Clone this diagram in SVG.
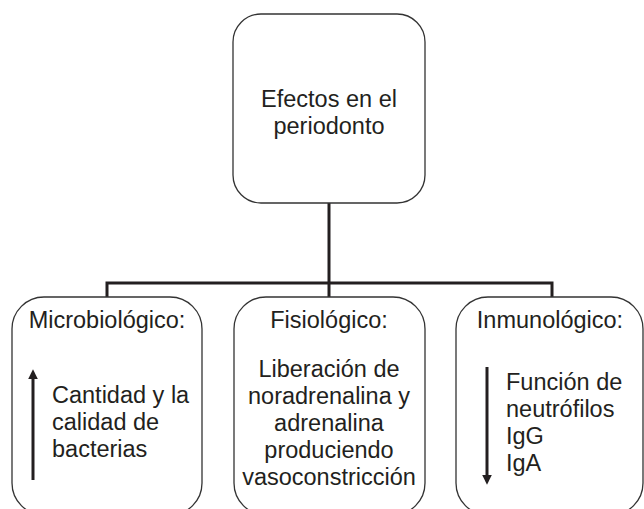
<svg xmlns="http://www.w3.org/2000/svg" width="644" height="509" viewBox="0 0 644 509">
<style>
.box{fill:#fff;stroke:#333;stroke-width:1.3}
.t{font-family:"Liberation Sans",Arial,sans-serif;font-size:23.5px;fill:#231f20}
.c{text-anchor:middle}
.con{fill:none;stroke:#231f20;stroke-width:3}
.arr{stroke:#231f20;stroke-width:3}
</style>
<defs>
<marker id="ah" viewBox="0 0 10 10" refX="2" refY="5" markerWidth="3.2" markerHeight="3.4" orient="auto" markerUnits="strokeWidth">
<path d="M0,0 L10,5 L0,10 z" fill="#231f20"/>
</marker>
</defs>
<g id="connectors">
<path class="con" d="M329,203 V297"/>
<path class="con" d="M107,297 V283 H552 V297"/>
</g>
<g id="top">
<rect class="box" x="233" y="14" width="192" height="189" rx="28" ry="28"/>
<text class="t c" x="329" y="107">Efectos en el</text>
<text class="t c" x="329" y="134">periodonto</text>
</g>
<g id="micro">
<rect class="box" x="12" y="297" width="190" height="218" rx="32" ry="32"/>
<text class="t c" x="107" y="328">Microbiológico:</text>
<line class="arr" x1="33" y1="480" x2="33" y2="377" marker-end="url(#ah)"/>
<text class="t" x="52" y="403">Cantidad y la</text>
<text class="t" x="52" y="430">calidad de</text>
<text class="t" x="52" y="457">bacterias</text>
</g>
<g id="fisio">
<rect class="box" x="234" y="297" width="191" height="218" rx="32" ry="32"/>
<text class="t c" x="329" y="328">Fisiológico:</text>
<text class="t c" x="329" y="377">Liberación de</text>
<text class="t c" x="329" y="404">noradrenalina y</text>
<text class="t c" x="329" y="431">adrenalina</text>
<text class="t c" x="329" y="458">produciendo</text>
<text class="t c" x="329" y="485">vasoconstricción</text>
</g>
<g id="inmuno">
<rect class="box" x="456" y="297" width="187" height="218" rx="32" ry="32"/>
<text class="t c" x="550" y="328">Inmunológico:</text>
<line class="arr" x1="487" y1="367" x2="487" y2="477" marker-end="url(#ah)"/>
<text class="t" x="506" y="390">Función de</text>
<text class="t" x="506" y="417">neutrófilos</text>
<text class="t" x="506" y="444">IgG</text>
<text class="t" x="506" y="471">IgA</text>
</g>
</svg>
